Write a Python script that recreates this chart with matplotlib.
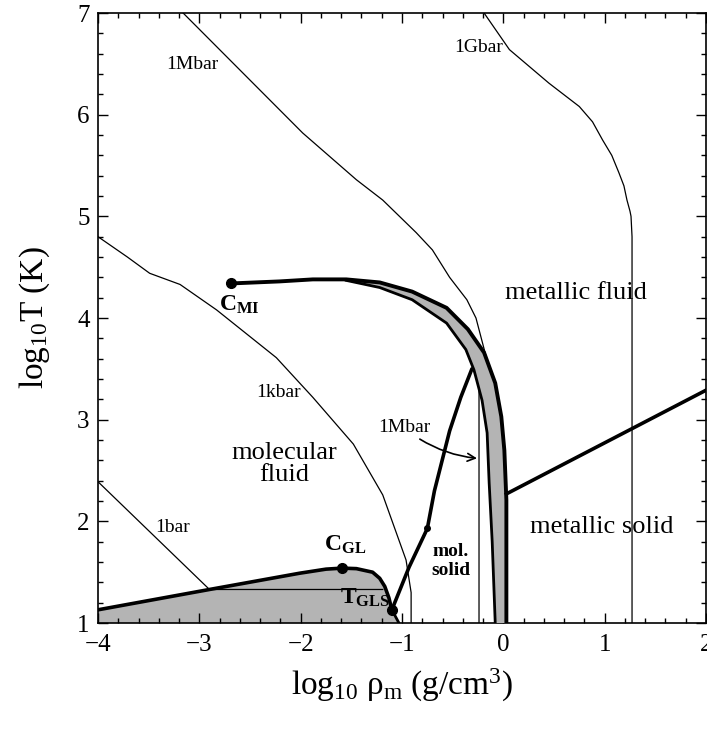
import matplotlib
matplotlib.use("Agg")
import matplotlib.pyplot as plt
import numpy as np
from matplotlib.ticker import MultipleLocator

plt.rcParams['font.family'] = ['Liberation Serif', 'DejaVu Serif']
plt.rcParams['mathtext.fontset'] = 'custom'
plt.rcParams['mathtext.rm'] = 'Liberation Serif'
plt.rcParams['mathtext.it'] = 'Liberation Serif:italic'
plt.rcParams['mathtext.bf'] = 'Liberation Serif:bold'

# ---- data (log10 rho, log10 T) ----
iso_1Mbar_x = [-3.16, -2.67, -1.98, -1.45, -1.19, -0.86, -0.70, -0.53, -0.36, -0.27, -0.17, -0.24, -0.24]
iso_1Mbar_y = [7.00, 6.51, 5.82, 5.36, 5.16, 4.84, 4.67, 4.40, 4.18, 4.00, 3.62, 3.40, 1.00]

iso_1Gbar_x = [-0.19, 0.06, 0.45, 0.75, 0.88, 0.98, 1.07, 1.14, 1.19, 1.22, 1.25, 1.26, 1.27, 1.27]
iso_1Gbar_y = [7.00, 6.64, 6.31, 6.08, 5.93, 5.75, 5.60, 5.43, 5.30, 5.16, 5.05, 5.00, 4.80, 1.00]

iso_1kbar_x = [-4.00, -3.71, -3.49, -3.19, -2.83, -2.24, -1.88, -1.48, -1.19, -0.96, -0.91, -0.91]
iso_1kbar_y = [4.80, 4.60, 4.44, 4.33, 4.08, 3.61, 3.22, 2.76, 2.26, 1.62, 1.30, 1.00]

iso_1bar_x = [-4.00, -2.90, -1.19]
iso_1bar_y = [2.39, 1.33, 1.33]

gl_x = [-4.00, -2.90, -2.01, -1.75, -1.59, -1.45, -1.29, -1.22, -1.17, -1.13, -1.10]
gl_y = [1.13, 1.33, 1.49, 1.53, 1.54, 1.535, 1.50, 1.44, 1.36, 1.25, 1.13]
gl_end_x = [-1.10, -1.03]
gl_end_y = [1.13, 1.00]

melt_x = [-1.10, -0.93, -0.75, -0.68, -0.53, -0.42, -0.31]
melt_y = [1.13, 1.55, 1.93, 2.30, 2.89, 3.22, 3.50]

ppt_out_x = [-2.69, -2.21, -1.88, -1.55, -1.22, -0.90, -0.56, -0.35, -0.19, -0.08, -0.02, 0.01, 0.03, 0.03]
ppt_out_y = [4.34, 4.36, 4.38, 4.38, 4.35, 4.26, 4.10, 3.89, 3.66, 3.36, 3.03, 2.70, 2.21, 1.00]
ppt_in_x = [-1.55, -1.22, -0.90, -0.56, -0.37, -0.29, -0.21, -0.16, -0.14, -0.11, -0.08]
ppt_in_y = [4.37, 4.30, 4.18, 3.95, 3.69, 3.49, 3.19, 2.87, 2.38, 1.80, 1.00]

msolid_x = [0.03, 2.00]
msolid_y = [2.27, 3.29]

pts_x = [-2.69, -1.59, -1.10, -0.75]
pts_y = [4.34, 1.54, 1.13, 1.93]
pts_s = [7, 7, 7, 4]

fig = plt.figure(figsize=(7.07, 7.31), dpi=100)
ax = fig.add_axes([0.1386, 0.1477, 0.8600, 0.8345])
ax.set_xlim(-4, 2)
ax.set_ylim(1, 7)

thin = dict(color='black', lw=0.9, zorder=2)
ax.plot(iso_1Mbar_x, iso_1Mbar_y, **thin)
ax.plot(iso_1Gbar_x, iso_1Gbar_y, **thin)
ax.plot(iso_1kbar_x, iso_1kbar_y, **thin)

gray = '#b4b4b4'
# gas-liquid coexistence region
poly_x = [-4.0] + gl_x + gl_end_x[1:] + [-4.0]
poly_y = [1.0] + gl_y + gl_end_y[1:] + [1.0]
ax.fill(poly_x, poly_y, color=gray, lw=0, zorder=1)
ax.plot(iso_1bar_x, iso_1bar_y, **thin)
ax.plot(gl_x, gl_y, color='black', lw=2.6, zorder=4, solid_capstyle='round')
ax.plot(gl_end_x, gl_end_y, color='black', lw=2.0, zorder=4)

# plasma phase transition band
band_x = ppt_out_x[3:] + ppt_in_x[::-1]
band_y = ppt_out_y[3:] + ppt_in_y[::-1]
ax.fill(band_x, band_y, color=gray, lw=0, zorder=3)
ax.plot(ppt_out_x, ppt_out_y, color='black', lw=2.8, zorder=4, solid_capstyle='round')
ax.plot(ppt_in_x, ppt_in_y, color='black', lw=2.0, zorder=4)

ax.plot(melt_x, melt_y, color='black', lw=2.6, zorder=4, solid_capstyle='round')
ax.plot(msolid_x, msolid_y, color='black', lw=2.6, zorder=4)

for px, py, s in zip(pts_x, pts_y, pts_s):
    ax.plot(px, py, 'o', color='black', ms=s, zorder=5)

# labels
fs_iso = 14
ax.text(-3.07, 6.49, '1Mbar', fontsize=fs_iso, ha='center', va='center')
ax.text(-0.24, 6.66, '1Gbar', fontsize=fs_iso, ha='center', va='center')
ax.text(-2.22, 3.27, '1kbar', fontsize=fs_iso, ha='center', va='center')
ax.text(-3.26, 1.94, '1bar', fontsize=fs_iso, ha='center', va='center')
ax.annotate('1Mbar', xy=(-0.26, 2.62), xytext=(-0.98, 2.92), fontsize=fs_iso,
            ha='center', va='center',
            arrowprops=dict(arrowstyle='->', color='black', lw=1.2,
                            connectionstyle='arc3,rad=0.15', shrinkA=0, shrinkB=0))

fs_reg = 19
ax.text(0.72, 4.25, 'metallic fluid', fontsize=fs_reg, ha='center', va='center')
ax.text(0.97, 1.94, 'metallic solid', fontsize=fs_reg, ha='center', va='center')
ax.text(-2.16, 2.56, 'molecular\nfluid', fontsize=fs_reg, ha='center', va='center',
        linespacing=1.0)
ax.text(-0.52, 1.61, 'mol.\nsolid', fontsize=14, ha='center', va='center',
        fontweight='bold', linespacing=1.2)

ax.text(-2.60, 4.13, r'$\mathbf{C}_{\mathbf{MI}}$', fontsize=17, ha='center', va='center')
ax.text(-1.56, 1.77, r'$\mathbf{C}_{\mathbf{GL}}$', fontsize=17, ha='center', va='center')
ax.text(-1.36, 1.25, r'$\mathbf{T}_{\mathbf{GLS}}$', fontsize=17, ha='center', va='center',
        zorder=6)

# axes / ticks
ax.xaxis.set_major_locator(MultipleLocator(1))
ax.xaxis.set_minor_locator(MultipleLocator(0.2))
ax.yaxis.set_major_locator(MultipleLocator(1))
ax.yaxis.set_minor_locator(MultipleLocator(0.2))
ax.tick_params(which='both', direction='in', top=True, right=True, labelsize=18, width=1.0)
ax.tick_params(which='major', length=7)
ax.tick_params(which='minor', length=3.5)
ax.tick_params(axis='x', which='major', pad=8)
ax.tick_params(axis='y', which='major', pad=6)
for sp in ax.spines.values():
    sp.set_linewidth(1.2)

ax.set_xlabel(r'log$_{10}$ ρ$_{\rm m}$ (g/cm$^3$)', fontsize=24, labelpad=8)
ax.set_ylabel(r'log$_{10}$T (K)', fontsize=24, labelpad=18)

fig.savefig('out.png', dpi=100, facecolor='white')
